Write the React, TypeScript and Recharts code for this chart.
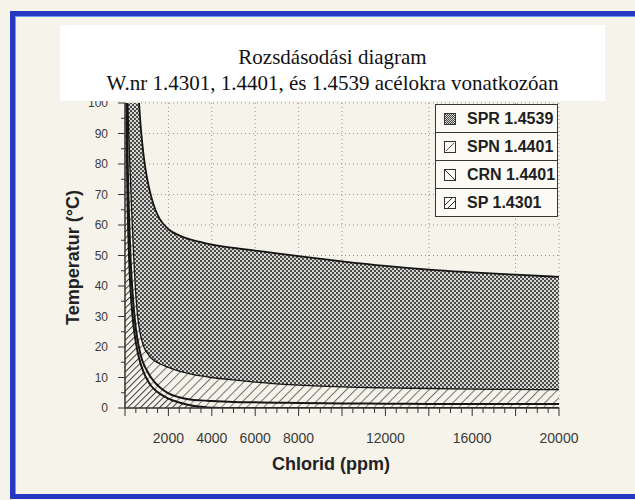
import React from 'react';
import { ComposedChart, Area, XAxis, YAxis, CartesianGrid, Legend, Label } from 'recharts';

// Chloride content (ppm) sample positions
const chloridPpm = [0, 50, 100, 150, 200, 250, 300, 400, 500, 600, 700, 800, 900, 1000, 1200, 1400, 1600, 2000, 2500, 3000, 3500, 4000, 5000, 6000, 7000, 8000, 10000, 12000, 14000, 16000, 18000, 20000];

// Upper boundary temperatures (°C) of each zone
const sprTop = [400, 320, 260, 225, 200, 180, 165, 140, 118, 105, 94.5, 86.5, 80.5, 76, 69.5, 65, 62, 58.6, 56.6, 55.3, 54.4, 53.6, 52.5, 51.6, 50.7, 49.8, 48.1, 46.6, 45.4, 44.5, 43.7, 43];
const spnTop = [300, 160, 112, 95, 84, 75, 66, 50, 37, 29, 24.5, 21.5, 19.5, 18.3, 16.4, 15.3, 14.5, 13.3, 12.1, 11.2, 10.5, 10, 9.2, 8.5, 7.9, 7.5, 6.9, 6.6, 6.4, 6.2, 6.1, 6];
const crnTop = [250, 140, 92, 72, 60, 50, 43, 33, 26, 21.5, 18, 15.5, 13.8, 12.4, 10, 8.2, 6.8, 4.8, 3.5, 2.8, 2.5, 2.3, 2.0, 1.85, 1.75, 1.65, 1.5, 1.4, 1.35, 1.3, 1.3, 1.3];
const spTop = [200, 118, 76, 58, 47, 39.5, 34, 26.5, 21.5, 17.8, 15, 12.8, 11, 9.6, 7.3, 5.8, 4.7, 3.1, 1.8, 0.9, 0.4, 0.1, 0, 0, 0, 0, 0, 0, 0, 0, 0, 0];

// Axis ticks
const xTickMarks = [0, 500, 1000, 1500, 2000, 2500, 3000, 3500, 4000, 4500, 5000, 5500, 6000, 6500, 7000, 7500, 8000, 8500, 9000, 9500, 10000, 10500, 11000, 11500, 12000, 12500, 13000, 13500, 14000, 14500, 15000, 15500, 16000, 16500, 17000, 17500, 18000, 18500, 19000, 19500, 20000];
const xTickLabels = [2000, 4000, 6000, 8000, 12000, 16000, 20000];
const yTickMarks = [0, 5, 10, 15, 20, 25, 30, 35, 40, 45, 50, 55, 60, 65, 70, 75, 80, 85, 90, 95, 100];
const gridX = [2000, 4000, 6000, 8000, 10000, 12000, 14000, 16000, 18000];
const gridY = [10, 20, 30, 40, 50, 60, 70, 80, 90, 100];

const titleLines = ['Rozsdásodási diagram', 'W.nr 1.4301, 1.4401, és 1.4539 acélokra vonatkozóan'];
const xTitle = 'Chlorid (ppm)';
const yTitle = 'Temperatur (°C)';

const series = [
  { key: 'spr', name: 'SPR 1.4539', fill: 'url(#patSPR)', strokeWidth: 1.8 },
  { key: 'spn', name: 'SPN 1.4401', fill: 'url(#patSPN)', strokeWidth: 1.3 },
  { key: 'crn', name: 'CRN 1.4401', fill: 'url(#patCRN)', strokeWidth: 2 },
  { key: 'sp', name: 'SP 1.4301', fill: 'url(#patSP)', strokeWidth: 2 },
];

const data = chloridPpm.map((ppm, i) => ({
  ppm,
  spr: sprTop[i],
  spn: spnTop[i],
  crn: crnTop[i],
  sp: spTop[i],
}));

const BG = '#f6f4ea';
const SANS = '"Liberation Sans", Arial, Helvetica, sans-serif';

const renderXTick = (props: any) => {
  const { x, y, payload } = props;
  const v = payload.value;
  const major = v % 2000 === 0;
  return (
    <g>
      <line x1={x} x2={x} y1={y} y2={y + (major ? 8 : 5)} stroke="#333" strokeWidth={1} />
      {xTickLabels.includes(v) && (
        <text x={x} y={y + 35} textAnchor="middle" fontSize={14} fill="#3a3a3a" fontFamily={SANS}>
          {v}
        </text>
      )}
    </g>
  );
};

const renderYTick = (props: any) => {
  const { x, y, payload } = props;
  const v = payload.value;
  const major = v % 10 === 0;
  return (
    <g>
      <line x1={x - (major ? 7 : 4)} x2={x} y1={y} y2={y} stroke="#333" strokeWidth={1} />
      {major && (
        <text x={x - 17} y={y} dy="0.35em" textAnchor="end" fontSize={12} fill="#3a3a3a" fontFamily={SANS}>
          {v}
        </text>
      )}
    </g>
  );
};

const LegendIcon = ({ k }: { k: string }) => (
  <svg width={12} height={12} style={{ display: 'block' }}>
    <defs>
      <pattern id="legChecker" width={2} height={2} patternUnits="userSpaceOnUse">
        <rect width={2} height={2} fill="#d8d8d4" />
        <rect width={1} height={1} fill="#444" />
        <rect x={1} y={1} width={1} height={1} fill="#444" />
      </pattern>
    </defs>
    <rect x={0.5} y={0.5} width={11} height={11} fill={k === 'spr' ? 'url(#legChecker)' : '#fbfaf4'} stroke="#333" strokeWidth={1} />
    {k === 'spn' && <line x1={2} y1={10} x2={10} y2={2} stroke="#555" strokeWidth={1} />}
    {k === 'crn' && <line x1={1} y1={1} x2={11} y2={11} stroke="#333" strokeWidth={1} />}
    {k === 'sp' && (
      <g stroke="#333" strokeWidth={1}>
        <line x1={1} y1={8} x2={8} y2={1} />
        <line x1={4} y1={11} x2={11} y2={4} />
      </g>
    )}
  </svg>
);

const LegendBox = () => (
  <div
    style={{
      width: 123,
      boxSizing: 'border-box',
      border: '1px solid #3b3434',
      background: '#fbfaf4',
      fontFamily: SANS,
    }}
  >
    {series.map((s, i) => (
      <div
        key={s.key}
        style={{
          height: 27,
          display: 'flex',
          alignItems: 'center',
          paddingLeft: 8,
          borderTop: i === 0 ? 'none' : '1px solid #3b3434',
        }}
      >
        <LegendIcon k={s.key} />
        <span style={{ marginLeft: 11, fontWeight: 'bold', fontSize: 16, color: '#1e1e1e', whiteSpace: 'nowrap' }}>
          {s.name}
        </span>
      </div>
    ))}
  </div>
);

export default function App() {
  return (
    <div
      style={{
        position: 'absolute',
        left: 0,
        top: 0,
        width: 635,
        height: 500,
        overflow: 'hidden',
        background: BG,
      }}
    >
      <div
        style={{
          position: 'absolute',
          left: 10,
          top: 11,
          width: 660,
          height: 488,
          boxSizing: 'border-box',
          border: '5px solid #2637c2',
          boxShadow: 'inset 1px 1px 0 #6f9cf0',
        }}
      />
      <div style={{ position: 'absolute', left: 0, top: 0 }}>
        <ComposedChart width={635} height={500} data={data} margin={{ top: 103, right: 76, bottom: 0, left: 0 }}>
          <defs>
            <pattern id="patSPR" width={4} height={4} patternUnits="userSpaceOnUse">
              <rect width={4} height={4} fill="#d6d6d2" />
              <rect width={2} height={2} fill="#4a4a4a" />
              <rect x={2} y={2} width={2} height={2} fill="#4a4a4a" />
            </pattern>
            <pattern id="patSPN" width={6.5} height={6.5} patternUnits="userSpaceOnUse" patternTransform="rotate(45)">
              <rect width={6.5} height={6.5} fill={BG} />
              <line x1={0.5} y1={0} x2={0.5} y2={6.5} stroke="#6e6e6e" strokeWidth={1} />
            </pattern>
            <pattern id="patCRN" width={6} height={6} patternUnits="userSpaceOnUse" patternTransform="rotate(45)">
              <rect width={6} height={6} fill={BG} />
              <line x1={0.5} y1={0} x2={0.5} y2={6} stroke="#8a8a8a" strokeWidth={1} />
            </pattern>
            <pattern id="patSP" width={4.5} height={4.5} patternUnits="userSpaceOnUse" patternTransform="rotate(45)">
              <rect width={4.5} height={4.5} fill={BG} />
              <line x1={0.5} y1={0} x2={0.5} y2={4.5} stroke="#3a3a3a" strokeWidth={1} />
            </pattern>
          </defs>

          <XAxis xAxisId="grid" type="number" dataKey="ppm" domain={[0, 20000]} ticks={gridX} hide />
          <YAxis yAxisId="grid" type="number" domain={[0, 100]} ticks={gridY} hide allowDataOverflow />
          <CartesianGrid
            xAxisId="grid"
            yAxisId="grid"
            stroke="#a38f8f"
            strokeDasharray="1 3"
            strokeWidth={1}
          />

          <XAxis
            type="number"
            dataKey="ppm"
            domain={[0, 20000]}
            ticks={xTickMarks}
            interval={0}
            tick={renderXTick}
            tickLine={false}
            tickSize={0}
            tickMargin={0}
            height={92}
            axisLine={{ stroke: '#333', strokeWidth: 1.5 }}
          >
            <Label
              content={(p: any) => {
                const vb = p.viewBox || { x: 125, y: 408, width: 434 };
                return (
                  <text
                    x={vb.x + vb.width / 2 - 11}
                    y={vb.y + 62}
                    textAnchor="middle"
                    fontSize={18}
                    fontWeight="bold"
                    fill="#222"
                    fontFamily={SANS}
                  >
                    {xTitle}
                  </text>
                );
              }}
            />
          </XAxis>
          <YAxis
            type="number"
            domain={[0, 100]}
            ticks={yTickMarks}
            interval={0}
            allowDataOverflow
            tick={renderYTick}
            tickLine={false}
            tickSize={0}
            tickMargin={0}
            width={125}
            axisLine={{ stroke: '#333', strokeWidth: 1.5 }}
          >
            <Label
              content={(p: any) => {
                const vb = p.viewBox || { x: 0, y: 103, height: 305 };
                const cx = vb.x + 72.5;
                const cy = vb.y + vb.height / 2 + 2;
                return (
                  <text
                    x={cx}
                    y={cy}
                    transform={`rotate(-90, ${cx}, ${cy})`}
                    textAnchor="middle"
                    dominantBaseline="central"
                    fontSize={18}
                    fontWeight="bold"
                    fill="#222"
                    fontFamily={SANS}
                  >
                    {yTitle}
                  </text>
                );
              }}
            />
          </YAxis>

          {series.map((s) => (
            <Area
              key={s.key}
              type="monotone"
              dataKey={s.key}
              name={s.name}
              fill={s.fill}
              fillOpacity={1}
              stroke="#151515"
              strokeWidth={s.strokeWidth}
              dot={false}
              activeDot={false}
              isAnimationActive={false}
            />
          ))}

          <Legend
            layout="horizontal"
            verticalAlign="middle"
            align="center"
            width={123}
            content={() => <LegendBox />}
            wrapperStyle={{ left: 435, top: 104, width: 123 }}
          />
        </ComposedChart>
      </div>
      <div
        style={{
          position: 'absolute',
          left: 60,
          top: 25,
          width: 545,
          height: 76,
          boxSizing: 'border-box',
          paddingTop: 19,
          background: '#ffffff',
          textAlign: 'center',
          fontFamily: '"Liberation Serif", "Times New Roman", serif',
          fontSize: 21,
          lineHeight: '26px',
          color: '#111',
        }}
      >
        {titleLines.map((t) => (
          <div key={t}>{t}</div>
        ))}
      </div>
    </div>
  );
}
